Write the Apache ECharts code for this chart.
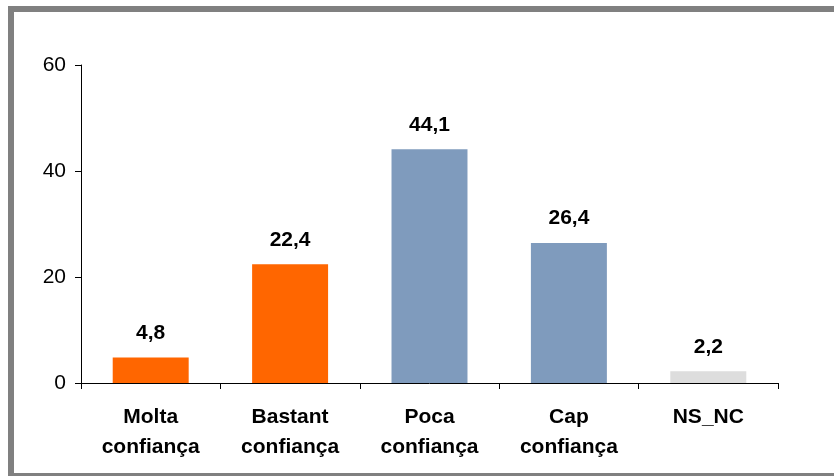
<!DOCTYPE html>
<html>
<head>
<meta charset="utf-8">
<script src="https://cdn.jsdelivr.net/npm/echarts@6/dist/echarts.min.js"></script>
<style>
html,body{margin:0;padding:0;background:#fff;}
#c{width:834px;height:476px;}
</style>
</head>
<body>
<div id="c"></div>
<script>
const categories = ['Molta\nconfiança', 'Bastant\nconfiança', 'Poca\nconfiança', 'Cap\nconfiança', 'NS_NC'];
const values = [4.8, 22.4, 44.1, 26.4, 2.2];
const valueLabels = ['4,8', '22,4', '44,1', '26,4', '2,2'];
const barColors = ['#FF6600', '#FF6600', '#7F9BBD', '#7F9BBD', '#DDDDDD'];
const yTicks = [0, 20, 40, 60];

const chart = echarts.init(document.getElementById('c'), null, {renderer: 'canvas'});
chart.setOption({
  animation: false,
  backgroundColor: '#ffffff',
  graphic: [{
    type: 'rect',
    shape: {x: 11, y: 9, width: 900, height: 467},
    style: {fill: 'none', stroke: '#808080', lineWidth: 6},
    silent: true
  }],
  grid: {left: 81, right: 56, top: 65, bottom: 93, containLabel: false},
  xAxis: {
    type: 'category',
    data: categories,
    axisLine: {lineStyle: {color: '#000', width: 1}},
    axisTick: {show: true, alignWithLabel: false, length: 6, lineStyle: {color: '#000'}},
    axisLabel: {
      interval: 0,
      margin: 19,
      color: '#000',
      fontFamily: 'Liberation Sans, Arial, sans-serif',
      fontWeight: 'bold',
      fontSize: 21,
      lineHeight: 30
    }
  },
  yAxis: {
    type: 'value',
    min: yTicks[0],
    max: yTicks[yTicks.length - 1],
    interval: 20,
    splitLine: {show: false},
    axisLine: {show: true, lineStyle: {color: '#000', width: 1}},
    axisTick: {show: true, length: 6, lineStyle: {color: '#000'}},
    axisLabel: {
      margin: 15,
      color: '#000',
      fontFamily: 'Liberation Sans, Arial, sans-serif',
      fontSize: 21
    }
  },
  series: [{
    type: 'bar',
    barWidth: '54.5%',
    data: values.map((v, i) => ({value: v, itemStyle: {color: barColors[i]}})),
    label: {
      show: true,
      position: 'top',
      distance: 14,
      color: '#000',
      fontFamily: 'Liberation Sans, Arial, sans-serif',
      fontWeight: 'bold',
      fontSize: 21,
      formatter: p => valueLabels[p.dataIndex]
    }
  }]
});
</script>
</body>
</html>
